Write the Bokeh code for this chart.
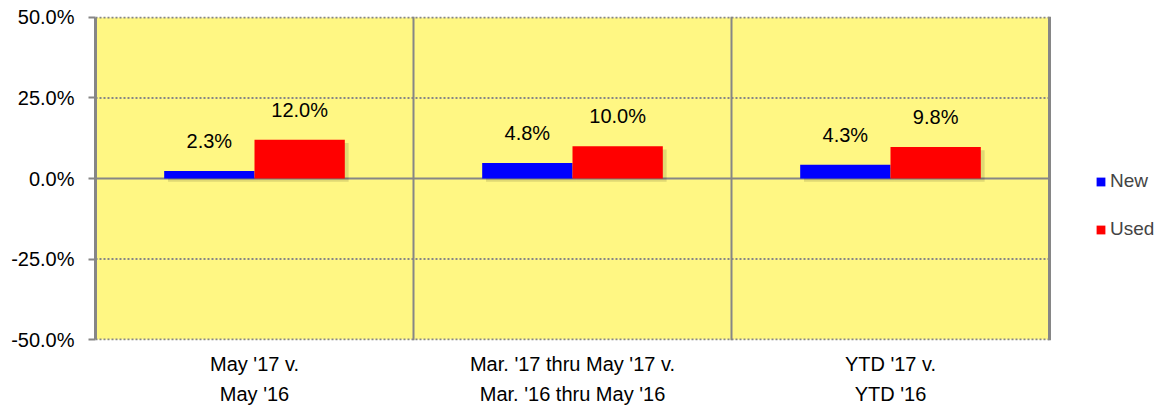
from bokeh.plotting import figure
from bokeh.models import (ColumnDataSource, Range1d, Span, Legend, LegendItem,
                          PrintfTickFormatter, FixedTicker, BoxAnnotation)
from bokeh.core.properties import value
from bokeh.embed import file_html
from bokeh.resources import INLINE

categories = ["May '17 v.\nMay '16",
              "Mar. '17 thru May '17 v.\nMar. '16 thru May '16",
              "YTD '17 v.\nYTD '16"]
new_vals = [2.3, 4.8, 4.3]
used_vals = [12.0, 10.0, 9.8]
y_ticks = [-50, -25, 0, 25, 50]
series_names = ["New", "Used"]

GRAY = "#868686"
YELLOW = "#FFF783"
SANS = "Liberation Sans"

n = len(categories)
centers = [i + 0.5 for i in range(n)]
bw = 0.284
off = 0.142

src = ColumnDataSource(dict(
    x_new=[c - off for c in centers],
    x_used=[c + off for c in centers],
    x_new_sh=[c - off + 0.012 for c in centers],
    x_used_sh=[c + off + 0.012 for c in centers],
    new=new_vals,
    used=used_vals,
    new_lbl=[f"{v:.1f}%" for v in new_vals],
    used_lbl=[f"{v:.1f}%" for v in used_vals],
    new_sh=[v - 1.0 for v in new_vals],
    used_sh=[v - 1.0 for v in used_vals],
    sh_bottom=[-1.0] * n,
))

dotted = [t for t in y_ticks if t != 0]
grid_src = ColumnDataSource(dict(x0=[0] * len(dotted), x1=[n] * len(dotted),
                                 y=dotted))

pad = 0.31  # small margin so the outer dotted lines are not clipped
# plot area (0..n) takes 954px; the remaining 118px on the right hold the legend
p = figure(width=1167, height=408,
           x_range=Range1d(0, n * (1 + 118 / 954)),
           y_range=Range1d(y_ticks[0] - pad, y_ticks[-1] + pad),
           output_backend="svg", toolbar_location=None,
           min_border_left=95, min_border_right=0,
           min_border_top=16, min_border_bottom=65)

p.background_fill_color = "white"
p.border_fill_color = "white"
p.outline_line_color = None
p.xgrid.grid_line_color = None
p.ygrid.grid_line_color = None

p.add_layout(BoxAnnotation(left=0, right=n, bottom=y_ticks[0], top=y_ticks[-1],
                           fill_color=YELLOW, fill_alpha=1.0,
                           line_color=None, level="image"))

# separators / right border
for i in range(1, n):
    p.add_layout(Span(location=i, dimension="height", line_color=GRAY,
                      line_width=2, level="underlay"))
p.add_layout(Span(location=n, dimension="height", line_color=GRAY,
                  line_width=3, level="underlay"))

# dotted gridlines + solid zero line across the plot area only
p.segment(x0="x0", x1="x1", y0="y", y1="y", source=grid_src, line_color=GRAY,
          line_width=2, line_dash="2 2", level="underlay")
p.segment(x0=0, x1=n, y0=0, y1=0, line_color=GRAY, line_width=2,
          level="underlay")

# soft shadows
p.vbar(x="x_new_sh", top="new_sh", bottom="sh_bottom", width=bw, source=src,
       fill_color="black", fill_alpha=0.12, line_color=None)
p.vbar(x="x_used_sh", top="used_sh", bottom="sh_bottom", width=bw, source=src,
       fill_color="black", fill_alpha=0.12, line_color=None)

r_new = p.vbar(x="x_new", top="new", bottom=0, width=bw, source=src,
               fill_color="#0000FF", line_color=None)
r_used = p.vbar(x="x_used", top="used", bottom=0, width=bw, source=src,
                fill_color="#FF0000", line_color=None)

p.text(x="x_new", y="new", text="new_lbl", source=src, text_align="center",
       text_baseline="bottom", y_offset=-19, text_font=value(SANS),
       text_font_size="20px", text_color="black")
p.text(x="x_used", y="used", text="used_lbl", source=src, text_align="center",
       text_baseline="bottom", y_offset=-19, text_font=value(SANS),
       text_font_size="20px", text_color="black")

# y axis
p.yaxis.ticker = FixedTicker(ticks=y_ticks)
p.yaxis.formatter = PrintfTickFormatter(format="%.1f%%")
p.yaxis.bounds = (y_ticks[0], y_ticks[-1])
p.yaxis.axis_line_color = GRAY
p.yaxis.axis_line_width = 3
p.yaxis.major_tick_line_color = GRAY
p.yaxis.major_tick_line_width = 2
p.yaxis.major_tick_out = 7
p.yaxis.major_tick_in = 0
p.yaxis.minor_tick_line_color = None
p.yaxis.major_label_text_font = SANS
p.yaxis.major_label_text_font_size = "20px"
p.yaxis.major_label_text_color = "black"
p.yaxis.major_label_standoff = 14

# x axis (category labels)
p.xaxis.ticker = FixedTicker(ticks=centers)
p.xaxis.major_label_overrides = {c: lab for c, lab in zip(centers, categories)}
p.xaxis.axis_line_color = None
p.xaxis.major_tick_line_color = None
p.xaxis.minor_tick_line_color = None
p.xaxis.major_label_text_font = SANS
p.xaxis.major_label_text_font_size = "20px"
p.xaxis.major_label_text_color = "black"
p.xaxis.major_label_text_line_height = 1.4
p.xaxis.major_label_standoff = 6

legend = Legend(items=[LegendItem(label=series_names[0], renderers=[r_new]),
                       LegendItem(label=series_names[1], renderers=[r_used])],
                location=(1000, 100), orientation="vertical",
                padding=0, margin=0, spacing=26,
                glyph_width=11, glyph_height=11, label_height=20,
                label_standoff=4,
                label_text_font=SANS, label_text_font_size="19px",
                background_fill_alpha=0, border_line_color=None)
p.add_layout(legend, "center")

open("out.html", "w").write(file_html(p, INLINE))
